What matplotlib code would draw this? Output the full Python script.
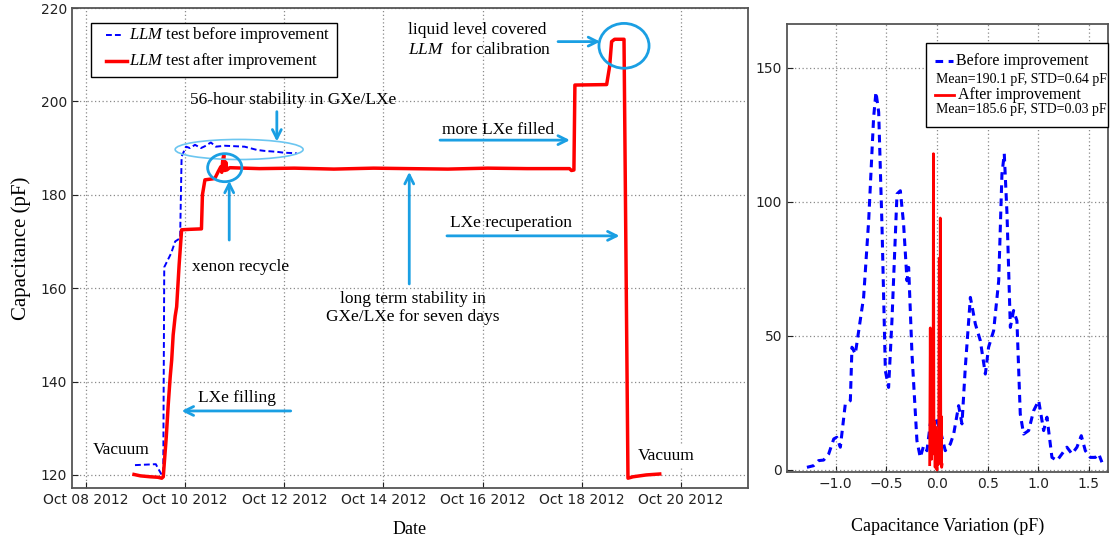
import numpy as np
import matplotlib
matplotlib.use('Agg')
import matplotlib.pyplot as plt
import matplotlib.dates as mdates
from matplotlib.patches import Ellipse, Rectangle
from matplotlib.lines import Line2D
from datetime import datetime

plt.rcParams['mathtext.fontset'] = 'custom'
plt.rcParams['mathtext.rm'] = 'Liberation Serif'
plt.rcParams['mathtext.it'] = 'Liberation Serif:italic'

SERIF = 'Liberation Serif'
ANN = '#1a9fe3'
GRID = dict(color='#8a8a8a', linestyle=(0, (1, 2)), linewidth=0.9)

# ── données : test LLM (jours depuis le 08/10/2012, capacité en pF) ─────────
blue_days = [0.99, 1.20, 1.41, 1.45, 1.53, 1.56, 1.58, 1.65, 1.72, 1.80, 1.90,
             1.93, 2.02, 2.10, 2.20, 2.32, 2.40, 2.52, 2.62, 2.80, 3.00, 3.20,
             3.45, 3.60, 3.85, 4.00, 4.25]
blue_pf = [122.1, 122.2, 122.3, 121.5, 120.0, 120.2, 164.5, 166.0, 167.5, 170.0,
           170.7, 188.2, 190.3, 190.0, 190.7, 190.0, 190.4, 191.2, 190.3, 190.5,
           190.4, 190.3, 189.6, 189.4, 189.2, 189.0, 188.9]

red_days = [0.97, 1.10, 1.30, 1.45, 1.53, 1.56, 1.62, 1.66, 1.70, 1.73, 1.76,
            1.80, 1.83, 1.88, 1.93, 2.10, 2.33, 2.35, 2.40, 2.55, 2.60, 2.67,
            2.72, 2.74, 2.76, 2.78, 2.80, 2.82, 2.84, 2.90, 3.50, 4.20, 5.00,
            5.80, 6.50, 7.30, 8.10, 8.90, 9.50, 9.75, 9.79, 9.84, 9.86, 10.50,
            10.56, 10.60, 10.66, 10.85, 10.93, 11.03, 11.30, 11.57]
red_pf = [120.1, 119.8, 119.6, 119.5, 119.3, 119.6, 128.0, 135.0, 141.0, 144.6,
          150.0, 154.0, 156.0, 165.0, 172.5, 172.6, 172.7, 180.0, 183.2, 183.4,
          183.5, 185.0, 186.0, 184.8, 187.5, 188.5, 185.2, 187.0, 185.3, 185.8,
          185.6, 185.7, 185.5, 185.7, 185.6, 185.5, 185.7, 185.6, 185.6, 185.6,
          185.2, 185.3, 203.5, 203.6, 207.5, 212.8, 213.3, 213.3, 119.3, 119.6,
          120.0, 120.2]

tick_days = [0, 2, 4, 6, 8, 10, 12]

# ── données : distribution des variations de capacité ───────────────────────
dv_before = [-1.285, -1.22, -1.17, -1.12, -1.07, -1.02, -0.99, -0.955, -0.906,
             -0.856, -0.84, -0.807, -0.725, -0.675, -0.626, -0.603, -0.576,
             -0.543, -0.51, -0.478, -0.445, -0.395, -0.362, -0.33, -0.296,
             -0.28, -0.247, -0.198, -0.165, -0.132, -0.099, -0.066, -0.016,
             0.033, 0.082, 0.132, 0.165, 0.214, 0.247, 0.28, 0.33, 0.379,
             0.428, 0.478, 0.51, 0.56, 0.61, 0.642, 0.665, 0.692, 0.725, 0.757,
             0.79, 0.823, 0.856, 0.906, 0.955, 1.005, 1.054, 1.087, 1.136,
             1.186, 1.235, 1.284, 1.334, 1.383, 1.426, 1.466, 1.515, 1.565,
             1.598, 1.63]
n_before = [1.0, 1.6, 3.5, 3.7, 6.0, 11.6, 12.2, 8.5, 24.6, 25.9, 45.8, 43.3,
            64.4, 93.0, 131.6, 141.0, 133.5, 90.5, 37.0, 30.8, 55.7, 103.0,
            104.2, 91.8, 70.6, 75.6, 43.3, 10.9, 4.7, 9.0, 7.2, 17.2, 19.7,
            14.7, 7.2, 9.7, 13.4, 24.0, 17.2, 38.3, 64.4, 54.5, 48.3, 35.8,
            45.8, 52.0, 70.6, 110.4, 118.0, 95.5, 53.2, 59.5, 55.7, 20.9, 13.4,
            14.7, 22.1, 25.9, 14.7, 19.7, 4.7, 3.5, 6.0, 8.5, 6.0, 8.5, 12.8,
            7.2, 4.7, 4.7, 6.0, 2.9]

dv_after = [-0.072, -0.066, -0.062, -0.058, -0.054, -0.050, -0.046, -0.042,
            -0.038, -0.035, -0.030, -0.024, -0.018, -0.012, -0.006, 0.000,
            0.006, 0.012, 0.018, 0.023, 0.028, 0.033, 0.038, 0.042, 0.046,
            0.050]
n_after = [2, 53, 10, 50, 4, 45, 15, 52, 20, 118, 6, 18, 1, 16, 3, 0, 14, 2, 17,
           79, 12, 94, 3, 20, 1, 2]

legend_left = [r'$\mathit{LLM}$ test before improvement',
               r'$\mathit{LLM}$ test after improvement']
legend_right = ['Before improvement', 'Mean=190.1 pF, STD=0.64 pF',
                'After improvement', 'Mean=185.6 pF, STD=0.03 pF']

# ── figure ──────────────────────────────────────────────────────────────────
W, H = 1110, 542
fig = plt.figure(figsize=(W / 100, H / 100), dpi=100)


def px_box(x0, y0, x1, y1):
    return [x0 / W, 1 - y1 / H, (x1 - x0) / W, (y1 - y0) / H]


ax = fig.add_axes(px_box(72, 8, 748, 488))
ax2 = fig.add_axes(px_box(787, 24, 1108, 472))

t0 = mdates.date2num(datetime(2012, 10, 8))
bx = t0 + np.array(blue_days)
rx = t0 + np.array(red_days)

BLUE_LS = (0, (3, 1.6))
HIST_LS = (0, (2.5, 1.8))

ax.plot(bx, blue_pf, color='blue', lw=1.4, linestyle=BLUE_LS, zorder=3)
ax.plot(rx, red_pf, color='red', lw=2.5, zorder=4)

ax.set_xlim(t0 - 0.28, t0 + 13.35)
ax.set_ylim(117.2, 220)
ax.set_xticks(t0 + np.array(tick_days))
ax.xaxis.set_major_formatter(mdates.DateFormatter('%b %d %Y'))
ax.set_yticks([120, 140, 160, 180, 200, 220])
ax.grid(True, **GRID)
ax.set_xlabel('Date', family=SERIF, fontsize=13, labelpad=10)
ax.set_ylabel('Capacitance (pF)', family=SERIF, fontsize=15, labelpad=7)

# ── annotations ─────────────────────────────────────────────────────────────
def arrow(x0, y0, x1, y1):
    ax.annotate('', xy=(t0 + x1, y1), xytext=(t0 + x0, y0),
                arrowprops=dict(arrowstyle='->', color=ANN, lw=2,
                                mutation_scale=16, shrinkA=0, shrinkB=0),
                zorder=6)


def label(x, y, s, ha='center', **kw):
    ax.text(t0 + x, y, s, ha=ha, va='center', family=SERIF, fontsize=12.5,
            zorder=6, **kw)


ax.add_patch(Ellipse((t0 + 3.09, 189.7), 2.58, 4.3, fill=False,
                     edgecolor='#6cc6f0', lw=1.2, zorder=5))
ax.add_patch(Ellipse((t0 + 2.80, 185.8), 0.69, 6.0, fill=False,
                     edgecolor=ANN, lw=2, zorder=5))
ax.add_patch(Ellipse((t0 + 10.85, 211.9), 1.01, 9.6, fill=False,
                     edgecolor=ANN, lw=2, zorder=5))

label(2.10, 200.3, '56-hour stability in GXe/LXe', ha='left')
arrow(3.85, 197.8, 3.85, 191.4)
label(3.11, 164.6, 'xenon recycle')
arrow(2.89, 170.3, 2.89, 183.0)
label(6.60, 155.8, 'long term stability in\nGXe/LXe for seven days',
      linespacing=1.15)
arrow(6.52, 160.9, 6.52, 184.9)
label(8.32, 193.9, 'more LXe filled')
arrow(7.14, 191.7, 9.76, 191.7)
label(8.57, 174.0, 'LXe recuperation')
arrow(7.28, 171.2, 10.76, 171.2)
label(6.50, 213.1, 'liquid level covered\n$\\mathit{LLM}$  for calibration',
      ha='left', linespacing=1.3)
arrow(9.52, 212.8, 10.37, 212.8)
label(3.04, 136.5, 'LXe filling')
arrow(4.13, 133.7, 1.93, 133.7)
label(0.71, 125.4, 'Vacuum')
label(11.71, 124.1, 'Vacuum',
      bbox=dict(facecolor='white', edgecolor='none', pad=3))

# ── histogramme ─────────────────────────────────────────────────────────────
ax2.plot(dv_before, n_before, color='blue', lw=2.2, linestyle=HIST_LS, zorder=3)
ax2.plot(dv_after, n_after, color='red', lw=2.0, zorder=4)
ax2.set_xlim(-1.482, 1.69)
ax2.set_ylim(-0.75, 166.4)
ax2.set_xticks([-1.0, -0.5, 0.0, 0.5, 1.0, 1.5])
ax2.set_yticks([0, 50, 100, 150])
ax2.grid(True, **GRID)
ax2.set_xlabel('Capacitance Variation (pF)', family=SERIF, fontsize=13,
               labelpad=19)

for a in (ax, ax2):
    a.tick_params(direction='in', length=4, labelsize=10, colors='#222222')
    for s in a.spines.values():
        s.set_color('#555555')
        s.set_linewidth(1.3)


# ── légendes dessinées à la main (positions en pixels de la figure) ─────────
def legend_box(x0, y0, x1, y1):
    fig.add_artist(Rectangle((x0 / W, 1 - y1 / H), (x1 - x0) / W,
                             (y1 - y0) / H, transform=fig.transFigure,
                             facecolor='white', edgecolor='black', lw=1.0,
                             zorder=5))


def legend_line(x0, x1, y, **kw):
    fig.add_artist(Line2D([x0 / W, x1 / W], [1 - y / H] * 2,
                          transform=fig.transFigure, zorder=6, **kw))


def legend_text(x, y, s, fs):
    fig.text(x / W, 1 - y / H, s, ha='left', va='center', family=SERIF,
             fontsize=fs, zorder=7)


legend_box(91, 23, 337, 77)
legend_line(106, 123, 35, color='blue', lw=1.4, linestyle=BLUE_LS)
legend_line(106, 127, 61, color='red', lw=2.5)
legend_text(129, 35, legend_left[0], 12)
legend_text(129, 61, legend_left[1], 12)

legend_box(926, 43, 1108, 127)
legend_line(935, 953, 61, color='blue', lw=2.2, linestyle=HIST_LS)
legend_line(935, 954, 95, color='red', lw=2.0)
for (x, y, fs), s in zip([(956.5, 61, 11.5), (935.5, 79.5, 10),
                          (957.5, 95, 11.5), (936.5, 109.5, 10)], legend_right):
    legend_text(x, y, s, fs)

plt.savefig('out.png', dpi=100)
